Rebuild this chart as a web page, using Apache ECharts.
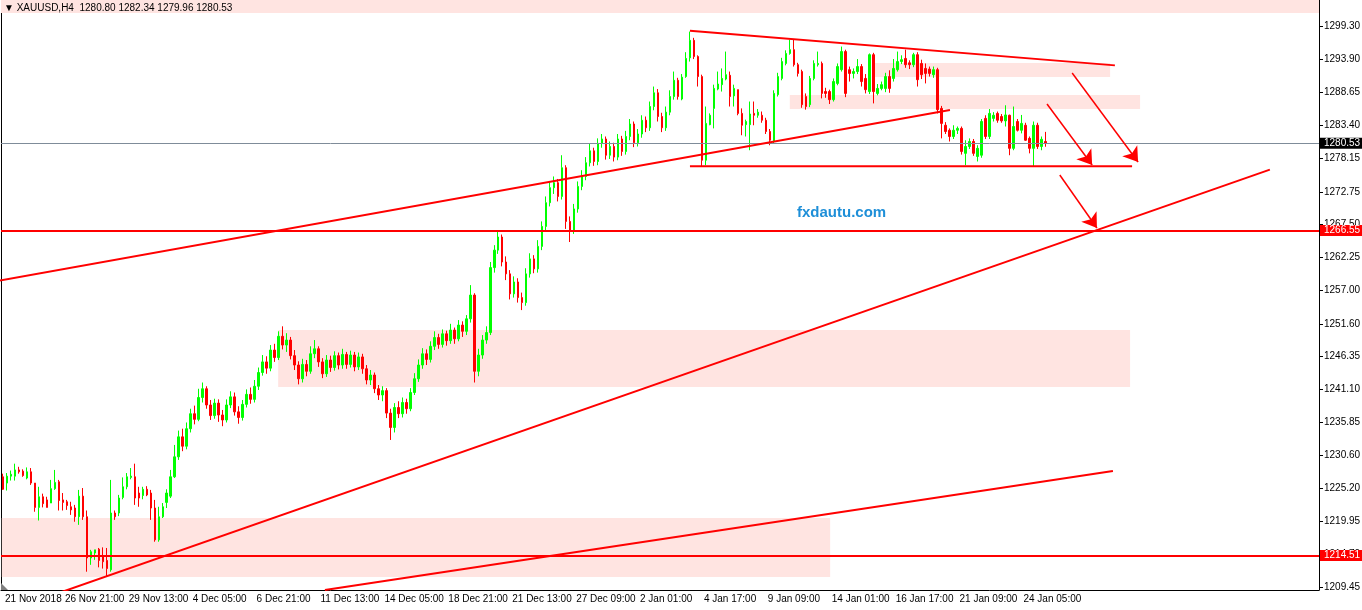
<!DOCTYPE html>
<html><head><meta charset="utf-8">
<script src="https://cdn.jsdelivr.net/npm/echarts@6/dist/echarts.min.js"></script>
<style>html,body{margin:0;padding:0;background:#fff}#c{width:1362px;height:610px}</style>
</head><body><div id="c"></div>
<script>
// ---- data: [open, high, low, close] per H4 bar ----
const ohlc = [
[1227.1,1227.6,1225.0,1225.1],[1226.1,1227.7,1224.9,1227.2],[1227.2,1228.1,1226.5,1227.5],[1227.2,1229.2,1226.5,1228.2],
[1228.2,1228.7,1227.6,1227.9],[1228.0,1228.3,1227.1,1227.3],[1226.9,1228.6,1226.7,1227.9],[1227.9,1228.5,1225.8,1226.1],
[1226.1,1226.1,1221.5,1222.2],[1222.2,1225.5,1220.1,1223.9],[1223.9,1224.4,1222.2,1222.8],[1223.4,1223.9,1222.2,1222.2],
[1222.9,1226.6,1222.9,1225.2],[1225.2,1228.2,1225.0,1226.2],[1226.3,1226.6,1221.7,1223.3],[1223.4,1224.5,1221.7,1223.0],
[1223.1,1223.4,1221.8,1222.5],[1222.3,1223.1,1221.0,1221.8],[1222.1,1222.6,1219.9,1220.7],[1220.7,1225.0,1219.4,1224.0],
[1224.0,1225.3,1220.2,1220.7],[1220.7,1221.7,1211.9,1214.1],[1214.1,1215.4,1213.0,1215.1],[1214.9,1215.4,1213.8,1215.4],
[1215.5,1215.7,1212.6,1213.7],[1214.3,1215.8,1212.4,1213.5],[1213.7,1215.7,1211.1,1212.4],[1212.2,1226.6,1211.9,1221.3],
[1221.3,1221.7,1220.2,1220.7],[1221.3,1224.2,1220.8,1223.7],[1223.8,1227.0,1223.5,1225.5],[1225.5,1227.7,1225.1,1227.1],
[1227.0,1228.5,1226.7,1227.2],[1227.1,1229.2,1222.6,1223.7],[1224.5,1225.5,1222.3,1223.7],[1224.1,1225.5,1223.5,1225.1],
[1225.1,1225.6,1224.0,1224.2],[1224.5,1225.0,1220.2,1222.1],[1222.1,1223.4,1216.7,1217.0],[1217.0,1222.3,1216.7,1220.7],
[1220.7,1222.9,1220.5,1222.3],[1223.0,1225.1,1222.1,1224.5],[1224.0,1228.2,1223.7,1227.1],[1227.1,1232.2,1226.9,1230.3],
[1230.3,1234.5,1229.8,1233.5],[1233.5,1234.8,1231.2,1232.0],[1232.0,1235.8,1231.5,1234.8],[1234.8,1238.0,1234.2,1237.2],
[1237.2,1238.5,1235.5,1236.3],[1236.3,1241.2,1236.0,1239.8],[1239.8,1242.2,1239.0,1241.2],[1241.2,1241.6,1238.0,1238.6],
[1238.6,1239.4,1236.2,1236.9],[1236.9,1239.6,1236.4,1238.9],[1238.9,1239.5,1235.9,1237.0],[1237.0,1237.8,1235.2,1236.2],
[1236.2,1239.5,1235.8,1238.6],[1238.6,1240.8,1238.1,1239.9],[1239.9,1240.6,1236.9,1237.5],[1237.5,1238.4,1235.6,1236.6],
[1236.6,1239.4,1236.1,1238.7],[1238.7,1241.1,1238.2,1240.3],[1240.3,1241.4,1238.8,1239.5],[1239.5,1242.6,1239.0,1241.6],
[1241.6,1244.6,1241.0,1243.8],[1243.8,1246.6,1243.3,1245.5],[1245.5,1246.4,1243.6,1244.5],[1244.5,1248.2,1244.0,1247.4],
[1247.4,1248.4,1245.5,1246.2],[1246.2,1250.4,1245.8,1249.6],[1249.6,1251.2,1247.5,1248.2],[1248.2,1250.1,1247.1,1249.0],
[1249.0,1249.5,1245.9,1246.5],[1246.5,1247.4,1244.2,1245.0],[1245.0,1245.6,1241.9,1242.8],[1242.8,1246.0,1242.2,1245.1],
[1245.1,1245.8,1243.2,1244.0],[1244.0,1248.0,1243.6,1246.8],[1246.8,1249.0,1246.1,1247.6],[1247.6,1248.0,1244.7,1245.5],
[1245.5,1246.1,1242.9,1243.6],[1243.6,1246.6,1243.1,1245.8],[1245.8,1246.5,1243.9,1244.6],[1244.6,1247.2,1244.1,1246.5],
[1246.5,1247.0,1244.3,1245.0],[1245.0,1247.6,1244.4,1246.7],[1246.7,1247.1,1244.4,1245.1],[1245.1,1247.3,1244.6,1246.6],
[1246.6,1247.1,1244.0,1244.7],[1244.7,1247.0,1244.2,1246.3],[1246.3,1246.8,1243.6,1244.4],[1244.4,1245.0,1241.9,1242.6],
[1242.6,1244.2,1241.8,1243.4],[1243.4,1243.8,1240.5,1241.2],[1241.2,1241.8,1239.4,1240.2],[1240.2,1241.6,1239.2,1240.9],
[1240.9,1241.3,1236.5,1237.3],[1237.3,1238.0,1233.0,1235.0],[1235.0,1238.9,1234.2,1238.2],[1238.2,1239.2,1236.5,1237.2],
[1237.2,1239.8,1236.6,1239.0],[1239.0,1239.6,1237.2,1238.0],[1238.0,1241.3,1237.6,1240.6],[1240.6,1243.7,1240.2,1242.8],
[1242.8,1245.9,1242.3,1245.0],[1245.0,1247.7,1244.4,1246.8],[1246.8,1247.5,1245.0,1245.9],[1245.9,1248.8,1245.4,1248.0],
[1248.0,1250.4,1247.4,1249.4],[1249.4,1250.0,1247.6,1248.3],[1248.3,1250.7,1247.8,1250.0],[1250.0,1250.5,1248.1,1248.9],
[1248.9,1251.6,1248.4,1250.6],[1250.6,1251.0,1248.4,1249.2],[1249.2,1252.2,1248.8,1251.4],[1251.4,1252.0,1249.5,1250.4],
[1250.4,1253.0,1249.8,1252.4],[1252.4,1257.8,1251.8,1256.2],[1256.2,1256.5,1242.2,1244.0],[1244.0,1247.6,1243.2,1246.6],
[1246.6,1249.8,1246.0,1249.0],[1249.0,1251.2,1248.4,1250.2],[1250.2,1261.5,1249.8,1260.6],[1260.6,1264.2,1259.8,1263.4],
[1263.4,1266.5,1262.8,1265.5],[1265.5,1265.9,1260.8,1261.5],[1261.5,1262.4,1258.6,1259.6],[1259.6,1260.2,1255.5,1256.4],
[1256.4,1259.2,1255.8,1258.3],[1258.3,1258.9,1255.0,1255.8],[1255.8,1256.6,1253.8,1255.0],[1255.0,1260.5,1254.5,1259.6],
[1259.6,1262.9,1259.0,1262.0],[1262.0,1262.6,1259.7,1260.4],[1260.4,1265.0,1259.8,1264.0],[1264.0,1268.0,1263.4,1267.2],
[1267.2,1272.0,1266.6,1271.0],[1271.0,1274.3,1270.4,1273.4],[1273.4,1275.2,1272.4,1274.2],[1274.2,1274.8,1271.2,1272.0],
[1272.0,1278.6,1271.5,1276.6],[1276.6,1277.0,1266.8,1268.0],[1268.0,1268.8,1264.7,1266.6],[1266.6,1270.8,1266.0,1270.0],
[1270.0,1274.4,1269.4,1273.6],[1273.6,1276.2,1273.0,1275.2],[1275.2,1278.3,1274.6,1277.4],[1277.4,1280.4,1276.8,1279.3],
[1279.3,1279.8,1276.9,1277.6],[1277.6,1281.3,1277.0,1280.5],[1280.5,1282.0,1279.8,1281.2],[1281.2,1281.6,1277.9,1278.6],
[1278.6,1280.8,1278.0,1280.0],[1280.0,1280.6,1277.6,1278.3],[1278.3,1282.0,1277.8,1281.2],[1281.2,1281.7,1278.5,1279.2],
[1279.2,1282.5,1278.7,1281.6],[1281.6,1284.4,1281.0,1283.6],[1283.6,1284.0,1279.9,1280.6],[1280.6,1282.8,1280.0,1282.0],
[1282.0,1285.0,1281.4,1284.2],[1284.2,1284.8,1282.3,1283.0],[1283.0,1287.2,1282.5,1286.4],[1286.4,1289.6,1285.8,1288.6],
[1288.6,1289.2,1284.0,1284.8],[1284.8,1285.4,1282.3,1283.0],[1283.0,1286.4,1282.5,1285.5],[1285.5,1289.0,1285.0,1288.0],
[1288.0,1292.0,1287.5,1290.6],[1290.6,1291.0,1287.5,1288.0],[1287.6,1291.6,1287.4,1291.1],[1291.2,1295.1,1291.0,1294.1],
[1294.2,1298.4,1293.6,1297.0],[1297.0,1297.4,1294.0,1294.4],[1294.4,1294.6,1289.6,1291.2],[1291.2,1291.5,1276.8,1277.8],
[1277.8,1286.4,1277.0,1283.7],[1283.5,1285.3,1283.4,1285.0],[1286.1,1289.9,1282.9,1289.3],[1289.2,1292.0,1289.0,1290.0],
[1289.9,1292.5,1288.8,1290.9],[1290.8,1295.2,1290.6,1291.5],[1291.4,1292.0,1286.4,1288.0],[1288.1,1289.9,1286.4,1289.3],
[1289.1,1289.1,1285.0,1285.3],[1285.3,1286.1,1281.8,1283.4],[1283.5,1284.3,1281.6,1284.0],[1283.5,1287.2,1279.4,1285.2],
[1285.3,1287.2,1283.4,1285.0],[1285.0,1286.0,1284.6,1285.5],[1285.0,1285.6,1283.8,1284.2],[1284.2,1284.6,1282.0,1282.4],
[1282.4,1282.8,1280.2,1281.0],[1280.8,1289.0,1280.5,1288.5],[1288.3,1291.8,1288.0,1291.2],[1290.9,1294.2,1290.6,1293.6],
[1293.3,1295.4,1293.0,1294.9],[1294.9,1297.1,1294.7,1295.5],[1295.5,1297.1,1292.8,1293.1],[1293.1,1293.4,1291.2,1291.7],
[1292.0,1292.3,1286.2,1286.7],[1288.0,1288.5,1285.9,1286.4],[1286.7,1291.3,1286.3,1290.9],[1290.9,1293.8,1290.6,1293.3],
[1293.1,1295.2,1292.8,1293.3],[1293.3,1293.6,1287.7,1288.5],[1288.8,1289.4,1287.8,1288.5],[1288.8,1289.1,1286.8,1287.5],
[1287.5,1290.9,1287.2,1290.4],[1290.1,1293.3,1289.8,1292.8],[1292.3,1296.0,1292.0,1295.2],[1295.2,1295.5,1287.9,1288.5],
[1292.3,1292.8,1290.4,1291.7],[1291.7,1292.5,1290.9,1292.0],[1292.0,1294.0,1291.6,1292.8],[1292.8,1293.2,1289.6,1290.4],
[1290.9,1291.6,1288.5,1289.1],[1288.8,1294.9,1288.4,1294.7],[1294.7,1295.0,1286.9,1288.8],[1288.5,1290.0,1288.2,1289.3],
[1289.3,1290.4,1289.0,1289.9],[1289.3,1291.8,1288.7,1291.2],[1291.2,1292.2,1288.6,1289.3],[1290.9,1294.0,1290.4,1292.5],
[1292.3,1295.2,1292.0,1293.6],[1293.6,1294.6,1293.2,1293.9],[1294.1,1295.5,1292.6,1293.1],[1293.4,1293.8,1292.4,1293.1],
[1293.1,1295.0,1292.7,1294.7],[1294.7,1295.1,1289.6,1290.7],[1293.3,1293.9,1290.8,1291.5],[1292.5,1293.3,1290.1,1291.7],
[1292.4,1292.8,1291.2,1291.7],[1291.5,1292.8,1291.0,1292.3],[1292.3,1292.6,1285.3,1285.9],[1286.1,1286.5,1281.3,1283.7],
[1283.4,1283.9,1282.0,1282.4],[1282.6,1282.9,1280.8,1281.6],[1281.6,1283.4,1281.2,1282.6],[1282.6,1283.2,1282.0,1282.9],
[1282.9,1283.2,1278.7,1279.2],[1278.9,1281.0,1277.0,1280.0],[1280.0,1281.3,1279.6,1280.8],[1280.8,1281.2,1278.5,1278.9],
[1278.4,1280.2,1277.6,1279.7],[1278.6,1284.4,1278.2,1284.0],[1284.5,1285.0,1281.2,1281.6],[1281.6,1286.0,1281.2,1285.3],
[1284.5,1285.5,1284.0,1285.0],[1285.3,1285.6,1283.8,1284.2],[1284.8,1285.2,1283.8,1284.1],[1284.1,1286.6,1283.2,1285.05],
[1285.0,1285.1,1278.6,1279.7],[1279.7,1286.4,1279.4,1283.2],[1284.0,1284.4,1282.4,1282.6],[1282.6,1285.05,1282.1,1283.7],
[1283.4,1283.8,1280.9,1281.0],[1281.3,1281.6,1278.9,1279.7],[1279.7,1284.0,1276.8,1283.4],[1283.4,1283.8,1279.6,1280.0],
[1280.0,1281.6,1279.4,1281.15],[1280.80,1282.34,1279.96,1280.53]
];
const slotCount = 330;                      // bar slots incl. right-hand chart shift
const categories = Array.from({length: slotCount}, (_, i) => String(i));
const tickLabels = [[0,'21 Nov 2018'],[15,'26 Nov 21:00'],[31,'29 Nov 13:00'],[47,'4 Dec 05:00'],[63,'6 Dec 21:00'],
  [79,'11 Dec 13:00'],[95,'14 Dec 05:00'],[111,'18 Dec 21:00'],[127,'21 Dec 13:00'],[143,'27 Dec 09:00'],
  [159,'2 Jan 01:00'],[175,'4 Jan 17:00'],[191,'9 Jan 09:00'],[207,'14 Jan 01:00'],[223,'16 Jan 17:00'],
  [239,'21 Jan 09:00'],[255,'24 Jan 05:00']];
const priceTicks = [1299.30,1293.90,1288.65,1283.40,1278.15,1272.75,1267.50,1262.25,1257.00,1251.60,
  1246.35,1241.10,1235.85,1230.60,1225.20,1219.95,1214.70,1209.45];
const priceMin = 1208.97, priceMax = 1303.46;
const levels = [1266.55, 1214.51];
const bidPrice = 1280.53;
const header = 'XAUUSD,H4  1280.80 1282.34 1279.96 1280.53';
// zones: [barFrom, priceA, barTo, priceB]
const zones = [[-1,1301.38,331,1306],[218.3,1293.37,277.2,1291.13],[197.0,1288.25,284.7,1286.0],
  [68.9,1250.61,282.2,1241.5],[-0.3,1220.5,207.1,1211.05]];
// trend lines: [[bar, price],[bar, price]]
const trendLines = [
  [[-0.8,1258.53],[237.1,1285.84]],
  [[172.0,1298.55],[278.4,1292.99]],
  [[172.0,1276.82],[282.7,1276.82]],
  [[14.0,1208.50],[317.2,1276.30]],
  [[80.6,1208.97],[277.9,1228.03]]
];
const arrows = [
  [[267.7,1291.77],[284.2,1277.52]],
  [[261.4,1286.80],[272.7,1277.04]],
  [[264.6,1275.43],[273.9,1266.95]]
];

const FONT = '"Liberation Sans", Arial, sans-serif';
const labelMap = new Map(tickLabels);
const chart = echarts.init(document.getElementById('c'), null, {renderer: 'canvas'});

const option = {
  animation: false,
  backgroundColor: '#ffffff',
  title: [
    {text: '\u25BC ' + header, left: 4, top: 3, padding: 0,
     textStyle: {fontSize: 10, fontWeight: 'normal', color: '#000', fontFamily: FONT}},
    {text: 'fxdautu.com', left: 797, top: 205, padding: 0,
     textStyle: {fontSize: 15, fontWeight: 'bold', color: '#1e8fd8', fontFamily: FONT}}
  ],
  grid: {left: 1, top: 0, width: 1318, height: 590, containLabel: false, outerBoundsMode: 'none'},
  xAxis: [
    {type: 'category', data: categories, boundaryGap: true,
     axisLine: {onZero: false, lineStyle: {color: '#000', width: 1}},
     axisTick: {alignWithLabel: true, interval: (i) => labelMap.has(i) && i > 0, length: 4, lineStyle: {color: '#000'}},
     axisLabel: {interval: (i) => labelMap.has(i), formatter: (v, i) => labelMap.get(Number(v)) || '',
       align: 'left', margin: 4, fontSize: 10, color: '#000', fontFamily: FONT, padding: [0, 0, 0, 2]},
     splitLine: {show: false}},
    {type: 'value', min: -0.5, max: slotCount - 0.5, show: false, splitLine: {show: false}}
  ],
  yAxis: {type: 'value', position: 'right', min: priceMin, max: priceMax, scale: true,
    axisLine: {show: true, onZero: false, lineStyle: {color: '#000'}},
    axisTick: {show: true, customValues: priceTicks, length: 4, lineStyle: {color: '#000'}},
    axisLabel: {customValues: priceTicks, formatter: (v) => Number(v).toFixed(2), fontSize: 10,
      color: '#000', margin: 5, fontFamily: FONT},
    splitLine: {show: false}},
  series: [
    {type: 'custom', xAxisIndex: 1, yAxisIndex: 0, z: 1, silent: true, data: zones,
     encode: {x: [0, 2], y: [1, 3]},
     renderItem: (params, api) => {
       const a = api.coord([api.value(0), api.value(1)]);
       const b = api.coord([api.value(2), api.value(3)]);
       const cs = params.coordSys;
       const r = echarts.graphic.clipRectByRect(
         {x: Math.min(a[0], b[0]), y: Math.min(a[1], b[1]), width: Math.abs(b[0] - a[0]), height: Math.abs(b[1] - a[1])},
         {x: cs.x, y: cs.y, width: cs.width, height: cs.height});
       return r && {type: 'rect', shape: r, style: {fill: '#ffe4e1'}};
     }},
    {type: 'candlestick', xAxisIndex: 0, yAxisIndex: 0, z: 3, barWidth: 2,
     data: ohlc.map(d => [d[0], d[3], d[2], d[1]]),
     itemStyle: {color: '#00ff00', color0: '#ff0000', borderColor: '#00ff00', borderColor0: '#ff0000', borderWidth: 1},
     markLine: {silent: true, symbol: ['none', 'none'], animation: false,
       label: {show: true, position: 'end', formatter: (p) => Number(p.value).toFixed(2), color: '#fff',
         fontSize: 10, fontFamily: FONT, padding: [1, 4, 0, 4], lineHeight: 10, distance: 1},
       data: [
         {yAxis: bidPrice, lineStyle: {color: '#7f8c99', width: 1, type: 'solid'}, label: {backgroundColor: '#000'}},
         ...levels.map(v => ({yAxis: v, lineStyle: {color: '#ff0000', width: 2, type: 'solid'}, label: {backgroundColor: '#ff0000'}}))
       ]}},
    ...trendLines.map(l => ({type: 'line', xAxisIndex: 1, yAxisIndex: 0, z: 5, data: l, showSymbol: false,
      symbol: 'none', silent: true, lineStyle: {color: '#ff0000', width: 2}})),
    {type: 'lines', coordinateSystem: 'cartesian2d', xAxisIndex: 1, yAxisIndex: 0, z: 6, silent: true,
     symbol: ['none', 'arrow'], symbolSize: [0, 14],
     data: arrows.map(a => ({coords: a})),
     lineStyle: {color: '#ff0000', width: 1.5, opacity: 1}}
  ],
  graphic: [
    {type: 'line', shape: {x1: 1.5, y1: 0, x2: 1.5, y2: 590}, style: {stroke: '#000', lineWidth: 1}, silent: true},
    {type: 'polygon', shape: {points: [[1047, 0], [1059, 0], [1053, 6]]}, style: {fill: '#808080'}, silent: true},
    {type: 'polygon', shape: {points: [[1, 583], [1, 590], [8, 590]]}, style: {fill: '#808080'}, silent: true}
  ]
};
chart.setOption(option);
</script>
</body></html>
